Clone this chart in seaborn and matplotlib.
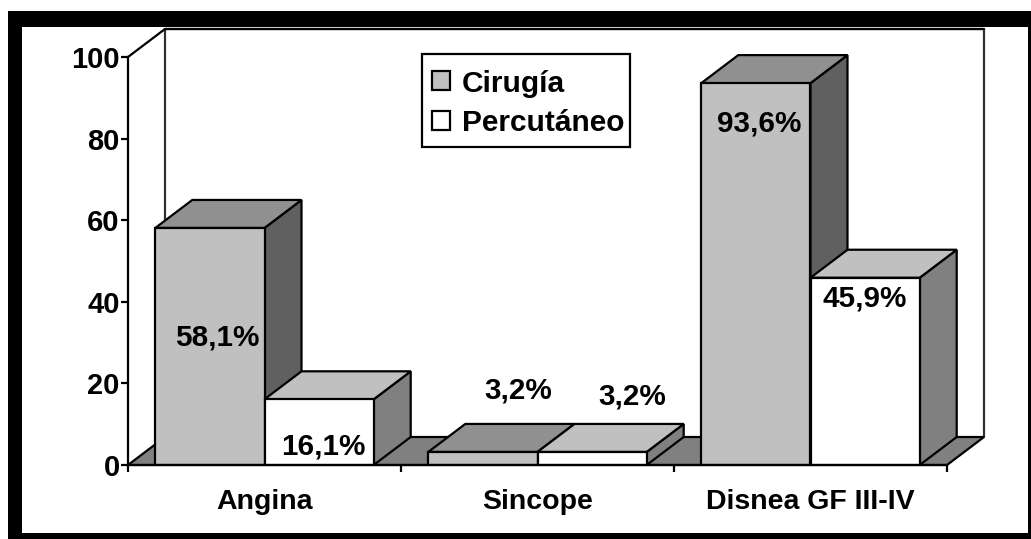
import matplotlib
matplotlib.use("Agg")
import matplotlib.pyplot as plt
from matplotlib.patches import Polygon, Rectangle
from matplotlib.lines import Line2D
import pandas as pd
import seaborn as sns

categories = ["Angina", "Sincope", "Disnea GF III-IV"]
series_names = ["Cirugía", "Percutáneo"]
cirugia = [58.1, 3.2, 93.6]
percutaneo = [16.1, 3.2, 45.9]
labels_cirugia = ["58,1%", "3,2%", "93,6%"]
labels_percutaneo = ["16,1%", "3,2%", "45,9%"]
y_ticks = [0, 20, 40, 60, 80, 100]

W, H = 1031, 539
sns.set_theme(style="white")
plt.rcParams["font.family"] = ["Liberation Sans", "DejaVu Sans"]
plt.rcParams["font.weight"] = "bold"

fig = plt.figure(figsize=(W / 100, H / 100), dpi=100, facecolor="white")
ax = fig.add_axes([128 / W, 1 - 465 / H, 819 / W, 408 / H])
ax.patch.set_alpha(0)

df = pd.DataFrame({
    "cat": categories * 2,
    "serie": [series_names[0]] * 3 + [series_names[1]] * 3,
    "valor": cirugia + percutaneo,
})
FRONT = ["#c0c0c0", "#ffffff"]
TOP = ["#909090", "#c0c0c0"]
SIDE = ["#606060", "#808080"]
LW = 1.6
sns.barplot(data=df, x="cat", y="valor", hue="serie", hue_order=series_names,
            order=categories, palette=FRONT, width=0.8, gap=0, saturation=1,
            edgecolor="black", linewidth=LW, errorbar=None, ax=ax, legend=False)
ax.set_xlim(-0.5, 2.5)
ax.set_ylim(0, 100)

DX = 37 / 273
DY = 28 / 4.08

# frame around the figure
for x, y, w, h in [(8, 11, 14, 528), (8, 11, 1023, 16), (1028, 11, 3, 528), (8, 533, 1023, 6)]:
    fig.add_artist(Rectangle((x / W, 1 - (y + h) / H), w / W, h / H, transform=fig.transFigure,
                             facecolor="black", edgecolor="none", zorder=0.1))

# walls and floor
ax.add_patch(Polygon([(-0.5, 0), (2.5, 0), (2.5 + DX, DY), (-0.5 + DX, DY)], closed=True,
                     facecolor="#808080", edgecolor="black", linewidth=LW, zorder=1, clip_on=False))
ax.add_line(Line2D([-0.5 + DX, -0.5 + DX, 2.5 + DX, 2.5 + DX], [DY, 100 + DY, 100 + DY, DY],
                   color="#303030", linewidth=LW, zorder=0.9, clip_on=False))
ax.add_line(Line2D([-0.5 + DX, 2.5 + DX], [100 + DY, 100 + DY], color="black", linewidth=LW,
                   zorder=0.95, clip_on=False))
ax.add_line(Line2D([-0.5, -0.5 + DX], [100, 100 + DY], color="black", linewidth=LW, zorder=0.9, clip_on=False))

# 3D faces of the bars
z = 2.0
for i in range(len(categories)):
    for j in range(2):
        bar = ax.containers[j][i]
        x0, w, h = bar.get_x(), bar.get_width(), bar.get_height()
        x1 = x0 + w
        ax.add_patch(Polygon([(x1, 0), (x1 + DX, DY), (x1 + DX, h + DY), (x1, h)], closed=True,
                             facecolor=SIDE[j], edgecolor="black", linewidth=LW, zorder=z, clip_on=False))
        ax.add_patch(Polygon([(x0, h), (x1, h), (x1 + DX, h + DY), (x0 + DX, h + DY)], closed=True,
                             facecolor=TOP[j], edgecolor="black", linewidth=LW, zorder=z + 0.1, clip_on=False))
        bar.set_zorder(z + 0.2)
        z += 1

# value labels
offsets = [[(7.5, -110), (35, 61), (3, -40)], [(4, -47), (40, 55), (0, -21)]]
for j, labs in enumerate([labels_cirugia, labels_percutaneo]):
    for i, lab in enumerate(labs):
        bar = ax.containers[j][i]
        ax.annotate(lab, (bar.get_x() + bar.get_width() / 2, bar.get_height()),
                    xytext=(offsets[j][i][0] * 0.72, offsets[j][i][1] * 0.72),
                    textcoords="offset points", ha="center", va="center",
                    fontsize=21.3, fontweight="bold", color="black", zorder=50, annotation_clip=False)

# axes
sns.despine(ax=ax, top=True, right=True)
for s in ["left", "bottom"]:
    ax.spines[s].set_color("black")
    ax.spines[s].set_linewidth(LW)
    ax.spines[s].set_zorder(40)
ax.set_yticks(y_ticks)
ax.set_xticks(range(3))
ax.set_xticks([-0.5, 0.5, 1.5, 2.5], minor=True)
ax.set_xticklabels(categories)
ax.set_xlabel("")
ax.set_ylabel("")
ax.tick_params(axis="x", which="major", length=0, pad=17.5, labelsize=20.5, labelcolor="black")
ax.tick_params(axis="x", which="minor", length=5, width=LW, color="black", bottom=True)
ax.tick_params(axis="y", length=5, width=LW, color="black", left=True, pad=1, labelsize=21, labelcolor="black")
for t in ax.get_xticklabels() + ax.get_yticklabels():
    t.set_fontweight("bold")

# legend: frame drawn to the reference box, entries inside it
ax.add_patch(Rectangle(((422 - 128) / 819, (465 - 147) / 408), 208 / 819, 93 / 408, transform=ax.transAxes,
                       facecolor="white", edgecolor="black", linewidth=LW, zorder=59, clip_on=False))
handles = [Rectangle((0, 0), 1, 1, facecolor=c, edgecolor="black", linewidth=LW) for c in FRONT]
leg = ax.legend(handles, series_names, loc="upper left",
                bbox_to_anchor=((432 - 128) / 819, (465 - 69.5) / 408),
                fontsize=21.5, frameon=False,
                handlelength=0.6, handleheight=0.6, handletextpad=0.4, labelspacing=0.39,
                borderpad=0, borderaxespad=0)
leg.set_zorder(60)
for t in leg.get_texts():
    t.set_fontweight("bold")
    t.set_color("black")

fig.savefig("out.png", dpi=100)
